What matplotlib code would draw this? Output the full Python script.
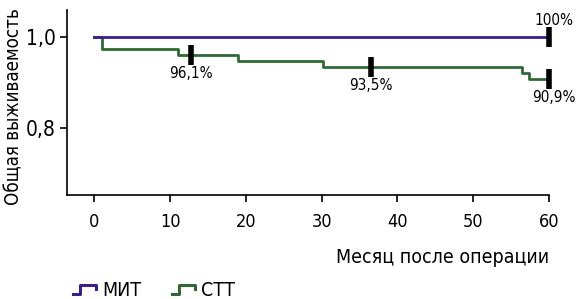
import matplotlib.pyplot as plt
from matplotlib.lines import Line2D
from matplotlib.legend_handler import HandlerBase

# данные
mit_t = [0, 60]
mit_s = [1.0, 1.0]
stt_t = [0, 1, 11, 19, 30.2, 56.4, 57.4, 60]
stt_s = [1.0, 0.974, 0.961, 0.948, 0.935, 0.922, 0.909, 0.909]
cens_t = [12.8, 36.5, 60]
cens_s = [0.961, 0.935, 0.909]
cens_lbl = ["96,1%", "93,5%", "90,9%"]
mit_cens_t = [60]
mit_cens_s = [1.0]
xticks = [0, 10, 20, 30, 40, 50, 60]

plt.rcParams["font.family"] = ["DejaVu Sans"]
plt.rcParams["font.stretch"] = "condensed"

purple = "#3c1f88"
green = "#2f6a36"


class StepHandler(HandlerBase):
    # значок легенды в виде ступеньки
    def create_artists(self, legend, orig, xd, yd, w, h, fontsize, trans):
        xs = [xd, xd + 0.3 * w, xd + 0.3 * w, xd + w, xd + w]
        ys = [yd + 0.1 * h, yd + 0.1 * h, yd + 0.75 * h, yd + 0.75 * h, yd + 0.5 * h]
        ln = Line2D(xs, ys, color=orig.get_color(), lw=2.2, transform=trans)
        return [ln]


fig = plt.figure(figsize=(5.78, 2.99), dpi=100)
ax = fig.add_axes([67 / 578, 104 / 299, (549 - 67) / 578, 185 / 299])

ax.step(mit_t, mit_s, where="post", color=purple, lw=2, zorder=3)
ax.step(stt_t, stt_s, where="post", color=green, lw=2, zorder=2)
ax.plot(cens_t, cens_s, ls="none", marker="|", ms=14, mew=4, color="black",
        clip_on=False, zorder=4)
ax.plot(mit_cens_t, mit_cens_s, ls="none", marker="|", ms=14, mew=4, color="black",
        clip_on=False, zorder=4)

for t, s, l in zip(cens_t, cens_s, cens_lbl):
    ax.text(t + (0.6 if t == 60 else 0), s - 0.025, l, ha="center", va="top", fontsize=11)
ax.text(60.6, 1.02, "100%", ha="center", va="bottom", fontsize=11)

ax.set_xlim(-3.6, 60)
ax.set_ylim(0.653, 1.06)
ax.set_xticks(xticks)
ax.set_xticklabels([str(x) for x in xticks], fontsize=13)
ax.set_yticks([0.8, 1.0])
ax.set_yticklabels(["0,8", "1,0"], fontsize=15)
ax.tick_params(axis="both", length=5, width=1.2, direction="out", pad=3)
ax.tick_params(axis="x", pad=8)
for sp in ["top", "right"]:
    ax.spines[sp].set_visible(False)
for sp in ["left", "bottom"]:
    ax.spines[sp].set_linewidth(1.2)

ax.set_ylabel("Общая выживаемость", fontsize=13.5, labelpad=2, y=0.48)
ax.set_xlabel("Месяц после операции", fontsize=14, loc="right", labelpad=12)

handles = [Line2D([], [], color=purple), Line2D([], [], color=green)]
fig.legend(handles, ["МИТ", "СТТ"], loc="center left", bbox_to_anchor=(0.109, 0.03),
           ncol=2, frameon=False, fontsize=14, handlelength=1.2, handletextpad=0.3,
           columnspacing=1.6, borderpad=0, handler_map={Line2D: StepHandler()})

fig.savefig("out.png", dpi=100)
